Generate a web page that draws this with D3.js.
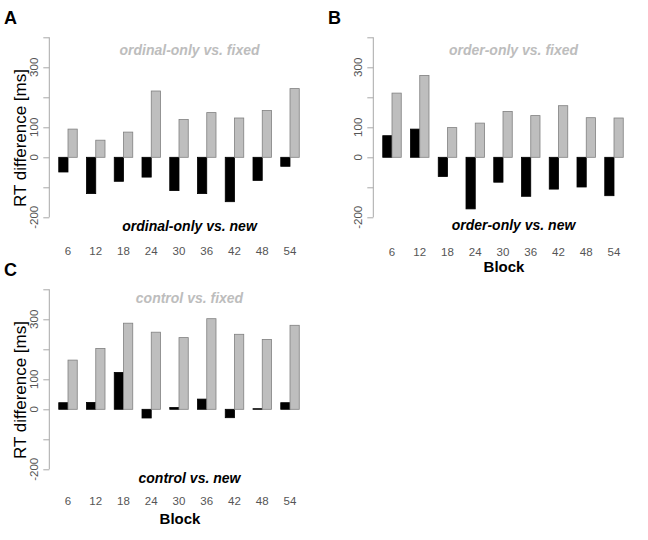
<!DOCTYPE html>
<html>
<head>
<meta charset="utf-8">
<script src="https://cdn.jsdelivr.net/npm/d3@7"></script>
<style>
  html, body { margin: 0; padding: 0; background: #fff; }
  svg { display: block; font-family: "Liberation Sans", Arial, sans-serif; }
</style>
</head>
<body>
<svg id="chart" width="648" height="540"></svg>
<script>
// ---- data ----
const blocks = ["6", "12", "18", "24", "30", "36", "42", "48", "54"];
const series = ["new", "fixed"];
const yTicks = [-200, -100, 0, 100, 200, 300, 400];
const yTickLabels = ["-200", "0", "100", "300"];
const yTickLabelValues = [-200, 0, 100, 300];

const ordinalNew   = [-49, -121, -80, -66, -111, -121, -148, -77, -30];
const ordinalFixed = [94, 57, 84, 221, 126, 149, 131, 156, 229];
const orderNew     = [72, 94, -64, -172, -83, -130, -106, -99, -128];
const orderFixed   = [214, 273, 99, 114, 153, 139, 172, 132, 131];
const controlNew   = [22, 23, 123, -29, 6, 34, -28, 2, 22];
const controlFixed = [164, 203, 287, 257, 239, 302, 250, 233, 280];

const panelLetters = ["A", "B", "C"];
const fixedTitles = ["ordinal-only vs. fixed", "order-only vs. fixed", "control vs. fixed"];
const newTitles = ["ordinal-only vs. new", "order-only vs. new", "control vs. new"];
const yTitle = "RT difference [ms]";
const xTitle = "Block";

// ---- layout ----
const panels = [
  { letter: panelLetters[0], ox: 0,   oy: 0,   nv: ordinalNew, fv: ordinalFixed, ft: fixedTitles[0], nt: newTitles[0], ylab: true,  xlab: false, tickY: 255, ftY: 55, ntY: 230.5 },
  { letter: panelLetters[1], ox: 324, oy: 0,   nv: orderNew,   fv: orderFixed,   ft: fixedTitles[1], nt: newTitles[1], ylab: false, xlab: true,  tickY: 256, ftY: 55, ntY: 230 },
  { letter: panelLetters[2], ox: 0,   oy: 252, nv: controlNew, fv: controlFixed, ft: fixedTitles[2], nt: newTitles[2], ylab: true,  xlab: true,  tickY: 253.3, ftY: 51.3, ntY: 231.3 }
];

const colors = { new: "#000000", fixed: "#bebebe" };
const strokes = { new: "#000000", fixed: "#808080" };

const svg = d3.select("#chart");

panels.forEach(p => {
  const g = svg.append("g").attr("transform", `translate(${p.ox},${p.oy})`);

  const y = d3.scaleLinear().domain([-200, 400]).range([217.3, 37.3]);
  const x0 = d3.scaleBand().domain(blocks).range([58.75, 299.25]).paddingInner(1/3).paddingOuter(0);
  const x1 = d3.scaleBand().domain(series).range([0, x0.bandwidth()]);

  // y axis
  const axisX = 49.3;
  const yAxis = d3.axisLeft(y).tickValues(yTicks).tickSize(6).tickFormat("");
  const ag = g.append("g").attr("transform", `translate(${axisX},0)`).call(yAxis);
  ag.select(".domain").attr("stroke", "#a8a8a8").attr("stroke-width", 1).attr("d", `M0,${y(-200)}V${y(400)}`);
  ag.selectAll(".tick line").attr("stroke", "#a8a8a8");

  // y tick labels (rotated, as R)
  g.selectAll("text.ytl").data(yTickLabelValues).enter().append("text")
    .attr("class", "ytl")
    .attr("transform", d => `translate(${axisX - 15},${y(d)}) rotate(-90)`)
    .attr("text-anchor", "middle")
    .attr("dy", "0.35em")
    .attr("font-size", "11.5px")
    .attr("fill", "#555")
    .text((d, i) => yTickLabels[i]);

  // bars
  const rows = blocks.map((b, i) => ({ block: b, new: p.nv[i], fixed: p.fv[i] }));
  const grp = g.selectAll("g.grp").data(rows).enter().append("g")
    .attr("class", "grp")
    .attr("transform", d => `translate(${x0(d.block)},0)`);
  grp.selectAll("rect").data(d => series.map(s => ({ s, v: d[s] }))).enter().append("rect")
    .attr("x", d => x1(d.s))
    .attr("width", x1.bandwidth())
    .attr("y", d => y(Math.max(0, d.v)))
    .attr("height", d => Math.abs(y(d.v) - y(0)))
    .attr("fill", d => colors[d.s])
    .attr("stroke", d => strokes[d.s])
    .attr("stroke-width", 0.8);

  // x tick labels
  g.selectAll("text.xtl").data(blocks).enter().append("text")
    .attr("class", "xtl")
    .attr("x", d => x0(d) + x0.bandwidth() / 2)
    .attr("y", p.tickY)
    .attr("text-anchor", "middle")
    .attr("font-size", "11.5px")
    .attr("fill", "#555")
    .text(d => d);

  // titles
  g.append("text").attr("x", 189.5).attr("y", p.ftY).attr("text-anchor", "middle")
    .attr("font-size", "14px").attr("font-weight", "bold").attr("font-style", "italic")
    .attr("fill", "#bdbdbd").text(p.ft);
  g.append("text").attr("x", 189.5).attr("y", p.ntY).attr("text-anchor", "middle")
    .attr("font-size", "14px").attr("font-weight", "bold").attr("font-style", "italic")
    .attr("fill", "#000").text(p.nt);

  // panel letter
  g.append("text").attr("x", 4).attr("y", 23.5)
    .attr("font-size", "18px").attr("font-weight", "bold").attr("fill", "#000").text(p.letter);

  if (p.ylab) {
    g.append("text").attr("transform", `translate(26,138) rotate(-90)`)
      .attr("text-anchor", "middle").attr("font-size", "17px").attr("fill", "#000").text(yTitle);
  }
  if (p.xlab) {
    g.append("text").attr("x", 180).attr("y", 272).attr("text-anchor", "middle")
      .attr("font-size", "15px").attr("font-weight", "bold").attr("fill", "#000").text(xTitle);
  }
});
</script>
</body>
</html>
